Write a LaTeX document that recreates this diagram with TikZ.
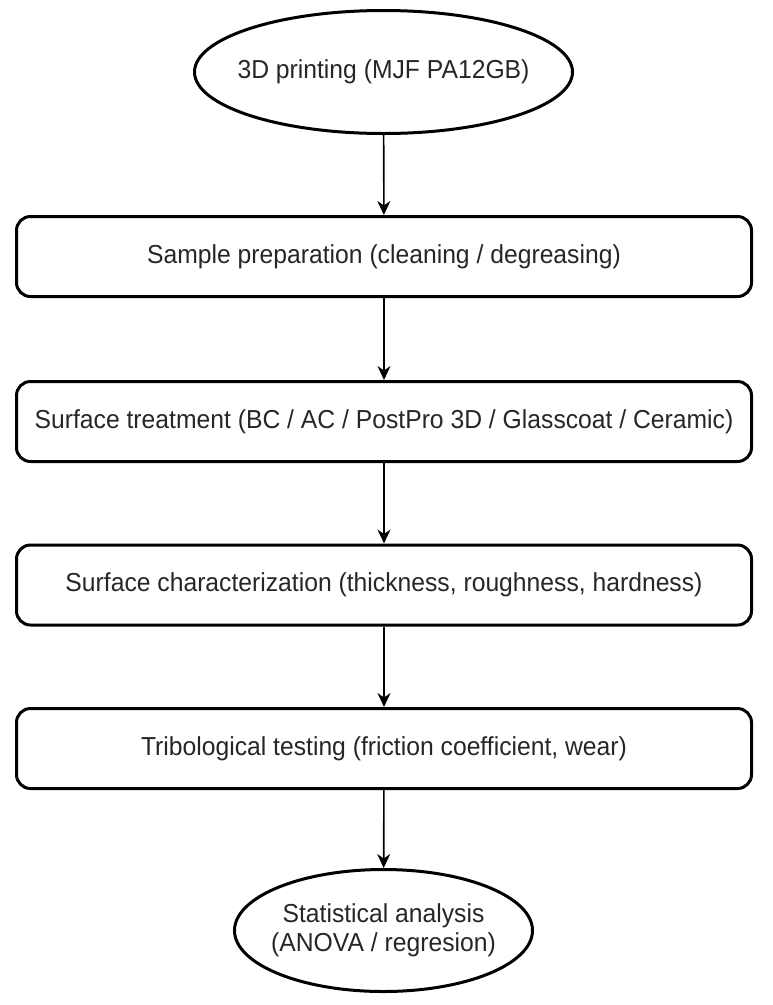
\documentclass[tikz,border=0pt]{standalone}
\usepackage{fontspec}
\setmainfont{Liberation Sans}[FakeStretch=0.95]
\usepackage{tikz}
\usetikzlibrary{arrows.meta,shapes.geometric}

\begin{document}
\begin{tikzpicture}[x=1pt, y=-1pt,
    every node/.style={font=\fontsize{26}{29}\selectfont, text=black!85},
    stepbox/.style={draw, line width=3pt, rounded corners=14pt,
      minimum width=735pt, minimum height=80pt, inner sep=0pt},
    terminal/.style={draw, ellipse, line width=3pt, inner xsep=-20pt,
      inner ysep=0pt, align=center},
    flow/.style={line width=1.6pt, -{Stealth[length=14pt, width=13pt]}}]
  \useasboundingbox (0,0) rectangle (772,1005);
  \node[terminal, minimum width=378pt, minimum height=123pt] (print) at (383.5,72)
    {3D printing (MJF PA12GB)};
  \node[stepbox] (prep)   at (384,256.5) {Sample preparation (cleaning / degreasing)};
  \node[stepbox] (treat)  at (384,421.5) {Surface treatment (BC / AC / PostPro 3D / Glasscoat / Ceramic)};
  \node[stepbox] (charac) at (384,585)   {Surface characterization (thickness, roughness, hardness)};
  \node[stepbox] (tribo)  at (384,748.5) {Tribological testing (friction coefficient, wear)};
  \node[terminal, minimum width=298pt, minimum height=122pt] (stats) at (383.5,930.5)
    {Statistical analysis\\(ANOVA / regresion)};
  % connectors
  \draw[flow] (print) -- (prep);
  \draw[flow] (prep) -- (treat);
  \draw[flow] (treat) -- (charac);
  \draw[flow] (charac) -- (tribo);
  \draw[flow] (tribo) -- (stats);
\end{tikzpicture}
\end{document}
